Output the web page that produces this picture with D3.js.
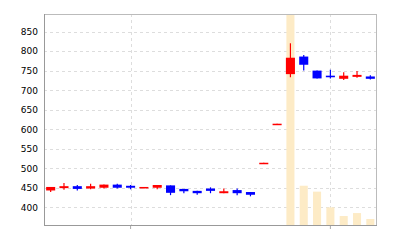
<html>
<head>
<meta charset="utf-8">
<title>candle chart</title>
<style>
  body { margin: 0; background: #fff; }
  .axis text { font-family: "DejaVu Sans", sans-serif; font-size: 9px; fill: #000; }
  .grid line { stroke: #ddd; stroke-dasharray: 3,3; shape-rendering: crispEdges; }
</style>
</head>
<body>
<script src="https://cdn.jsdelivr.net/npm/d3@7"></script>
<script>

var width = 400;
var height = 240;

// trading days (not labelled on the chart)
var days = ["11/01","11/02","11/06","11/07","11/08","11/09","11/10","11/13","11/14","11/15",
            "11/16","11/17","11/20","11/21","11/22","11/24","11/27","11/28","11/29","11/30",
            "12/01","12/04","12/05","12/06","12/07"];
var gridDays = ["11/10","12/04"];

var open  = [443,449,454,448,450,458,455,449,450,456,447,442,448,436,444,439,512,612,741,786,750,737,729,734,735];
var high  = [452,462,457,460,458,460,457,452,457,456,447,442,451,448,448,439,514,614,820,790,750,752,746,749,738];
var low   = [439,445,443,446,448,448,446,449,446,431,436,432,436,436,431,428,512,612,733,750,730,730,726,732,727];
var close = [452,454,447,454,458,450,450,452,457,437,441,436,442,441,436,432,514,614,783,765,730,733,737,739,729];
var volume = [3,4,3,3,3,1,1,1,1,4,1,1,2,1,1,2,3,3,1000,190,162,88,47,61,33];

var yTicks = [400,450,500,550,600,650,700,750,800,850];

var pLeft = 44, pRight = 377, pTop = 14, pBottom = 226;

var svg = d3.select("body").append("svg")
    .attr("width", width)
    .attr("height", height);

var x = d3.scaleBand().domain(days).range([pLeft, pRight]).paddingInner(0.32).paddingOuter(0.16);
var y = d3.scaleLinear().domain([352, 895]).range([pBottom, pTop]);
var yVol = d3.scaleLinear().domain([0, 1000]).range([pBottom, pTop]);

svg.append("defs").append("clipPath").attr("id", "plot")
  .append("rect").attr("x", pLeft).attr("y", pTop).attr("width", pRight - pLeft).attr("height", pBottom - pTop);

// grid
var grid = svg.append("g").attr("class", "grid");
grid.selectAll(".h").data(yTicks).enter().append("line")
    .attr("x1", pLeft).attr("x2", pRight)
    .attr("y1", function(d){ return Math.round(y(d)) + 0.5; })
    .attr("y2", function(d){ return Math.round(y(d)) + 0.5; });
grid.selectAll(".v").data(gridDays).enter().append("line")
    .attr("y1", pTop).attr("y2", pBottom)
    .attr("x1", function(d){ return Math.round(x(d) + x.bandwidth()/2) + 0.5; })
    .attr("x2", function(d){ return Math.round(x(d) + x.bandwidth()/2) + 0.5; });

var plot = svg.append("g").attr("clip-path", "url(#plot)");

// volume
plot.selectAll(".vol").data(days).enter().append("rect")
    .attr("x", function(d){ return x(d) + 0.5; })
    .attr("width", x.bandwidth() - 1)
    .attr("y", function(d,i){ return yVol(volume[i]); })
    .attr("height", function(d,i){ return pBottom - yVol(volume[i]); })
    .attr("fill", "#fdebc6");

function col(i){ return close[i] >= open[i] ? "#ff0000" : "#0000ff"; }

// wicks
plot.selectAll(".wick").data(days).enter().append("line")
    .attr("x1", function(d){ return x(d) + x.bandwidth()/2; })
    .attr("x2", function(d){ return x(d) + x.bandwidth()/2; })
    .attr("y1", function(d,i){ return y(high[i]); })
    .attr("y2", function(d,i){ return y(low[i]); })
    .attr("stroke", function(d,i){ return col(i); })
    .attr("stroke-width", 1.2);

// bodies
plot.selectAll(".body").data(days).enter().append("rect")
    .attr("x", function(d){ return x(d); })
    .attr("width", x.bandwidth())
    .attr("y", function(d,i){ return y(Math.max(open[i], close[i])); })
    .attr("height", function(d,i){ return Math.max(1.5, Math.abs(y(open[i]) - y(close[i]))); })
    .attr("fill", function(d,i){ return col(i); });

// y axis labels
var yAxis = d3.axisLeft(y).tickValues(yTicks).tickSize(0).tickPadding(6);
var ga = svg.append("g").attr("class", "axis").attr("transform", "translate(" + pLeft + ",0)").call(yAxis);
ga.select(".domain").remove();

// x ticks below axis
var xAxis = d3.axisBottom(x).tickValues(gridDays).tickSize(3).tickFormat("");
var gx = svg.append("g").attr("transform", "translate(0," + pBottom + ")").call(xAxis);
gx.select(".domain").remove();
gx.selectAll("line").attr("stroke", "#aaa");

// frame
svg.append("rect")
    .attr("x", pLeft + 0.5).attr("y", pTop + 0.5)
    .attr("width", pRight - pLeft - 1).attr("height", pBottom - pTop - 1)
    .attr("fill", "none").attr("stroke", "#bbb");
svg.append("line").attr("x1", pLeft + 0.5).attr("x2", pLeft + 0.5).attr("y1", pTop).attr("y2", pBottom)
    .attr("stroke", "#999");
svg.append("line").attr("x1", pLeft).attr("x2", pRight).attr("y1", pBottom - 0.5).attr("y2", pBottom - 0.5)
    .attr("stroke", "#999");

</script>
</body>
</html>
